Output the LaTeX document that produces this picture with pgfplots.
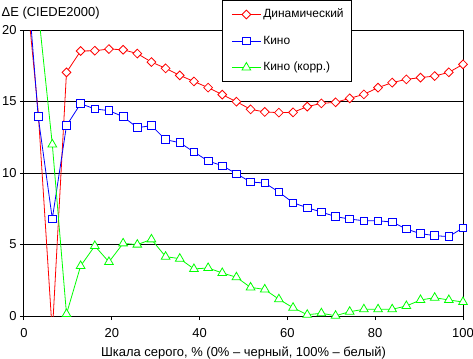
\documentclass[border=0pt]{standalone}
\usepackage{pgfplots}
\usepackage{pgfplotstable}
\pgfplotsset{compat=1.18}
\usepackage{fontspec}
\setmainfont{Liberation Sans}

\pgfplotstableread{
x r b g
0 24.5 26.5 30
3.23 14.3 13.94 21.4
6.45 -1.2 6.8 12.0
9.68 17.04 13.31 0.14
12.90 18.53 14.85 3.5
16.13 18.55 14.48 4.9
19.35 18.67 14.36 3.78
22.58 18.62 13.94 5.08
25.81 18.35 13.17 4.99
29.03 17.76 13.31 5.36
32.26 17.32 12.33 4.15
35.48 16.83 12.12 4.01
38.71 16.40 11.47 3.29
41.94 15.97 10.84 3.36
45.16 15.48 10.51 3.01
48.39 14.99 9.95 2.71
51.61 14.45 9.37 2.0
54.84 14.27 9.30 1.86
58.06 14.22 8.67 1.17
61.29 14.24 7.92 0.58
64.52 14.64 7.57 0.09
67.74 14.87 7.27 0.19
70.97 14.94 6.95 0.02
74.19 15.22 6.78 0.3
77.42 15.50 6.66 0.47
80.65 15.97 6.66 0.47
83.87 16.32 6.57 0.47
87.10 16.55 6.08 0.7
90.32 16.67 5.76 1.12
93.55 16.78 5.62 1.28
96.77 17.04 5.55 1.12
100 17.60 6.17 0.98
}\datatable

\begin{document}
\begin{tikzpicture}
\begin{axis}[
  at={(0,0)}, anchor=south west,
  scale only axis, width=439bp, height=286bp,
  xmin=0, xmax=100, ymin=0, ymax=20,
  xtick={0,20,...,100}, ytick={0,5,...,20},
  xtick pos=left, ytick pos=left,
  ymajorgrids, grid style={black, line width=1bp},
  axis line style={black, line width=1bp},
  tick style={black, line width=1bp},
  tick align=outside, major tick length=4bp,
  tick label style={font=\fontsize{13}{15}\selectfont},
  xticklabel style={yshift=-5bp},
  /pgf/number format/assume math mode=true,
  xlabel={Шкала серого, \% (0\% – черный, 100\% – белый)},
  xlabel style={font=\fontsize{13}{15}\selectfont, at={(axis description cs:0.5,0)}, anchor=base, yshift=-40.5bp},
  legend image code/.code={\path (0bp,0bp); \draw[mark repeat=2,mark phase=2,#1] plot coordinates {(3.5bp,0bp) (18bp,0bp) (32.5bp,0bp)};},
  legend style={at={(axis description cs:0.451,1.105)}, anchor=north west, draw=black, line width=1bp, fill=white,
    font=\fontsize{12}{14}\selectfont, inner sep=5.5bp, row sep=9.5bp,
    nodes={inner sep=2bp, text height=10bp, text depth=3bp}},
  legend cell align=left,
]
\addlegendimage{red, line width=0.8bp, mark=square*, mark size=3.1bp, mark options={rotate=45, fill=white, solid}}
\addlegendentry{Динамический}
\addlegendimage{blue, line width=0.8bp, mark=square*, mark size=3.8bp, mark options={fill=white, solid}}
\addlegendentry{Кино}
\addlegendimage{green, line width=0.8bp, mark=triangle*, mark size=5bp, mark options={fill=white, solid}}
\addlegendentry{Кино (корр.)}

\addplot[red, line width=0.8bp, forget plot] table[x=x, y=r] {\datatable};
\addplot[red, line width=0.8bp, only marks, mark=square*, mark size=3.1bp, mark options={rotate=45, fill=white}, restrict y to domain=-0.3:20.3, skip coords between index={1}{2}, forget plot] table[x=x, y=r] {\datatable};
\addplot[blue, line width=0.8bp, forget plot] table[x=x, y=b] {\datatable};
\addplot[blue, line width=0.8bp, only marks, mark=square*, mark size=3.8bp, mark options={fill=white}, restrict y to domain=-0.3:20.3, forget plot] table[x=x, y=b] {\datatable};
\addplot[green, line width=0.8bp, forget plot] table[x=x, y=g] {\datatable};
\addplot[green, line width=0.8bp, only marks, mark=triangle*, mark size=5bp, mark options={fill=white}, restrict y to domain=-0.3:20.3, forget plot] table[x=x, y=g] {\datatable};
\end{axis}
\node[anchor=base west, inner sep=0pt, font=\fontsize{13}{15}\selectfont] at (-22.5bp,299.3bp) {ΔE (CIEDE2000)};
\pgfresetboundingbox
\path[use as bounding box] (-24bp,-43bp) rectangle (449bp,316bp);
\end{tikzpicture}
\end{document}
